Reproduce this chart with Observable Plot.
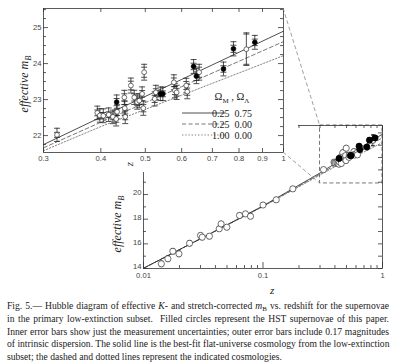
<!DOCTYPE html>
<html><head><meta charset="utf-8">
<script src="https://cdn.jsdelivr.net/npm/d3@7"></script>
<script src="https://cdn.jsdelivr.net/npm/@observablehq/plot@0.6"></script>
<style>
body{margin:0;background:#fff;}
#wrap{position:relative;width:400px;height:364px;overflow:hidden;background:#fff;}
#wrap svg{position:absolute;left:0;top:0;max-width:none;}
#cap{position:absolute;left:7px;top:300px;width:382px;font-family:"Liberation Serif",serif;font-size:9.9px;line-height:12.8px;color:#222;}
#cap div{text-align:justify;text-align-last:justify;white-space:nowrap;}
#cap div.last{text-align-last:left;}
#cap .s{font-size:7px;vertical-align:-2px;line-height:0;}
</style></head>
<body>
<div id="wrap"></div>
<script>
// ---- data: low-redshift supernovae (main panel only) ----
const lowZ   = [0.0141,0.0160,0.0176,0.0198,0.0243,0.0300,0.0310,0.0356,0.0430,0.0446,0.0498,0.0636,0.0714,0.0786,0.1000,0.1290,0.1776];
const lowM   = [14.38,14.79,15.40,15.19,16.05,16.68,16.54,16.62,17.22,17.62,17.35,18.30,18.43,18.24,19.15,19.57,20.46];
const lowErr = [0.15,0.15,0.14,0.15,0.13,0.12,0.12,0.12,0.11,0.11,0.11,0.10,0.10,0.10,0.10,0.10,0.10];
// ---- data: high-redshift supernovae (inset and main) ----
const hiZ   = [0.321,0.393,0.398,0.405,0.416,0.425,0.432,0.433,0.434,0.450,0.451,0.452,0.465,0.473,0.480,0.485,0.492,0.495,0.497,0.524,0.527,0.539,0.546,0.577,0.580,0.585,0.614,0.617,0.637,0.646,0.655,0.740,0.778,0.830,0.866];
const hiM   = [22.02,22.63,22.56,22.55,22.58,22.52,22.46,22.93,22.66,23.06,22.76,22.52,23.39,23.06,22.93,22.97,23.16,22.76,23.76,23.02,23.20,23.16,23.16,23.48,23.25,23.20,23.39,23.22,23.92,23.65,23.76,23.85,24.41,24.40,24.59];
const hiErr = [0.07,0.08,0.08,0.09,0.08,0.08,0.09,0.10,0.10,0.10,0.10,0.08,0.12,0.10,0.10,0.10,0.09,0.10,0.14,0.10,0.10,0.08,0.08,0.12,0.11,0.10,0.11,0.10,0.09,0.12,0.14,0.09,0.10,0.42,0.09];
const hiHST = [0,0,0,0,0,0,0,1,0,0,0,0,0,0,0,0,0,0,0,0,0,1,1,0,0,0,0,0,1,1,0,1,1,0,1];
const intrinsicDispersion = 0.17;
// ---- cosmology curves ----
const lineZ   = [0.01,0.03,0.1,0.3,0.4,0.6,1.0];
const mFlatL  = [14.02,16.42,19.08,21.75,22.51,23.56,24.90];
const mOpen   = [14.02,16.41,19.05,21.66,22.37,23.36,24.61];
const mEdS    = [14.02,16.40,19.02,21.58,22.25,23.12,24.22];
const legendLabels = ["0.25  0.75","0.25  0.00","1.00  0.00"];
// ---- axes / ticks ----
const mainXDomain = [0.01, 1], mainYDomain = [14, 25.6];
const mainXLabels = [0.01, 0.1, 1];
const mainYLabels = [14, 16, 18, 20, 22, 24];
const mainYMinor  = [15, 17, 19, 21, 23, 25];
const insetXDomain = [0.3, 1], insetYDomain = [21.53, 25.53];
const insetXTicks = [0.3,0.4,0.5,0.6,0.7,0.8,0.9,1];
const insetYTicks = [22, 23, 24, 25];
const insetYMinor = [21.75,22.25,22.5,22.75,23.25,23.5,23.75,24.25,24.5,24.75,25.25,25.5];
const zoomBoxZ = [0.3, 1], zoomBoxM = [20.9, 25.6];

const lowData = lowZ.map((z,i)=>({z, m:lowM[i], e:lowErr[i], hst:0}));
const hiData  = hiZ.map((z,i)=>({z, m:hiM[i], e:hiErr[i], hst:hiHST[i]}));
const allData = lowData.concat(hiData);
allData.forEach(d=>{ d.eo = Math.sqrt(d.e*d.e + intrinsicDispersion*intrinsicDispersion); });
const curves = [];
lineZ.forEach((z,i)=>{
  curves.push({z, m:mFlatL[i], k:"flat"});
  curves.push({z, m:mOpen[i], k:"open"});
  curves.push({z, m:mEdS[i], k:"eds"});
});
const styles = {
  flat:{stroke:"#222", dash:null, w:0.8},
  open:{stroke:"#555", dash:"4,2.5", w:0.8},
  eds: {stroke:"#777", dash:"1.4,1.8", w:0.9}
};
const capSymbol = { draw(ctx, size){ const w = Math.sqrt(size/Math.PI); ctx.moveTo(-w,0); ctx.lineTo(w,0); } };

const logMinor = [];
for (const dec of [0.01, 0.1]) for (let k=2;k<=9;k++) logMinor.push(+(k*dec).toFixed(3));

function curveMarks(data){
  return ["eds","open","flat"].map(k => Plot.line(data.filter(d=>d.k===k), {
    x:"z", y:"m", stroke:styles[k].stroke, strokeWidth:styles[k].w, strokeDasharray:styles[k].dash
  }));
}
function errorMarks(data, capR, dotR){
  return [
    Plot.ruleX(data, {x:"z", y1:d=>d.m-d.eo, y2:d=>d.m+d.eo, stroke:"#222", strokeWidth:0.8}),
    Plot.dot(data, {x:"z", y:d=>d.m+d.eo, symbol:capSymbol, r:capR, stroke:"#222", strokeWidth:0.8, fill:"none"}),
    Plot.dot(data, {x:"z", y:d=>d.m-d.eo, symbol:capSymbol, r:capR, stroke:"#222", strokeWidth:0.8, fill:"none"}),
    Plot.dot(data, {x:"z", y:d=>d.m+d.e, symbol:capSymbol, r:capR, stroke:"#222", strokeWidth:0.8, fill:"none"}),
    Plot.dot(data, {x:"z", y:d=>d.m-d.e, symbol:capSymbol, r:capR, stroke:"#222", strokeWidth:0.8, fill:"none"}),
    Plot.dot(data.filter(d=>!d.hst), {x:"z", y:"m", r:dotR, stroke:"#333", strokeWidth:0.7, fill:"white"}),
    Plot.dot(data.filter(d=>d.hst), {x:"z", y:"m", r:dotR, stroke:"#000", strokeWidth:0.7, fill:"#000"})
  ];
}

const tickFont = {fontFamily:"'Liberation Sans',Arial,sans-serif", fontSize:"7.6px", color:"#444"};
const fmt = d => String(d);

// ---------- main panel ----------
const MW=400, MH=300, ML=143, MR=18, MT=125, MB=32;
const mIW = MW-ML-MR, mIH = MH-MT-MB;
const main = Plot.plot({
  width:MW, height:MH, marginLeft:ML, marginRight:MR, marginTop:MT, marginBottom:MB,
  style:{...tickFont, background:"transparent", overflow:"visible"},
  x:{type:"log", domain:mainXDomain},
  y:{domain:mainYDomain},
  marks:[
    ...curveMarks(curves),
    Plot.rect([0], {x1:()=>zoomBoxZ[0], x2:()=>zoomBoxZ[1], y1:()=>zoomBoxM[0], y2:()=>zoomBoxM[1], fill:"none", stroke:"#666", strokeWidth:0.9, strokeDasharray:"4,2.5"}),
    ...errorMarks(allData, 1.8, 3.1),
    Plot.frame({stroke:"#333", strokeWidth:0.8}),
    Plot.tickY(mainYLabels, {y:d=>d, insetRight:mIW-5, stroke:"#333", strokeWidth:0.8}),
    Plot.tickY(mainYMinor, {y:d=>d, insetRight:mIW-3, stroke:"#333", strokeWidth:0.8}),
    Plot.tickY(mainYLabels.concat(mainYMinor), {y:d=>d, insetLeft:mIW-4, stroke:"#333", strokeWidth:0.8}),
    Plot.tickX(mainXLabels, {x:d=>d, insetTop:mIH-6, stroke:"#333", strokeWidth:0.8}),
    Plot.tickX(logMinor, {x:d=>d, insetTop:mIH-3, stroke:"#333", strokeWidth:0.8}),
    Plot.tickX(mainXLabels, {x:d=>d, insetBottom:mIH-6, stroke:"#333", strokeWidth:0.8}),
    Plot.tickX(logMinor, {x:d=>d, insetBottom:mIH-3, stroke:"#333", strokeWidth:0.8}),
    Plot.axisX({ticks:mainXLabels, tickSize:0, tickPadding:4, tickFormat:fmt, label:null, fill:"#444"}),
    Plot.axisY({ticks:mainYLabels, tickSize:0, tickPadding:2, tickFormat:fmt, label:null, fill:"#444", dy:-1.5})
  ]
});

// ---------- inset panel ----------
const IW=298, IH=172, IL=43, IR=15, IT=8, IB=20;
const iIW = IW-IL-IR, iIH = IH-IT-IB;
const inset = Plot.plot({
  width:IW, height:IH, marginLeft:IL, marginRight:IR, marginTop:IT, marginBottom:IB,
  style:{...tickFont, background:"white", overflow:"visible"},
  x:{type:"log", domain:insetXDomain},
  y:{domain:insetYDomain},
  marks:[
    ...curveMarks(curves.filter(d=>d.z>=0.3)),
    ...errorMarks(hiData, 3, 2.4),
    Plot.frame({stroke:"#333", strokeWidth:0.8}),
    Plot.tickY(insetYTicks, {y:d=>d, insetRight:iIW-5, stroke:"#333", strokeWidth:0.8}),
    Plot.tickY(insetYMinor, {y:d=>d, insetRight:iIW-3, stroke:"#333", strokeWidth:0.8}),
    Plot.tickY(insetYTicks, {y:d=>d, insetLeft:iIW-5, stroke:"#333", strokeWidth:0.8}),
    Plot.tickY(insetYMinor, {y:d=>d, insetLeft:iIW-3, stroke:"#333", strokeWidth:0.8}),
    Plot.tickX(insetXTicks, {x:d=>d, insetTop:iIH-4, stroke:"#333", strokeWidth:0.8}),
    Plot.tickX(insetXTicks, {x:d=>d, insetBottom:iIH-4, stroke:"#333", strokeWidth:0.8}),
    Plot.axisX({ticks:insetXTicks, tickSize:0, tickPadding:3, tickFormat:fmt, label:null, fill:"#444"}),
    Plot.axisY({ticks:insetYTicks, tickSize:0, tickPadding:2, tickFormat:fmt, label:null, fill:"#444"})
  ]
});

const wrap = document.getElementById("wrap");
wrap.appendChild(main);
wrap.appendChild(inset);

const serif = "'Liberation Serif','Times New Roman',serif";
function yLabel(svg, x, y){
  const t = d3.select(svg).append("text")
    .attr("transform", `translate(${x},${y}) rotate(-90)`)
    .attr("text-anchor","middle").attr("font-family",serif).attr("font-style","italic")
    .attr("font-size",12).attr("fill","#222");
  t.append("tspan").text("effective m");
  t.append("tspan").attr("font-size",8.5).attr("dy",3).text("B");
}
function zLabel(svg, x, y, rot){
  d3.select(svg).append("text")
    .attr("transform", `translate(${x},${y})${rot?" rotate(-90)":""}`)
    .attr("text-anchor","middle").attr("font-family",serif).attr("font-style","italic")
    .attr("font-size",11).attr("fill","#222").attr("dy","0.35em").text("z");
}
yLabel(inset, 28, IT+iIH/2+4);
zLabel(inset, IL+iIW*0.36, IH-8, true);
yLabel(main, 121, 224);
zLabel(main, ML+mIW*0.54, MH-10, false);

// legend in inset
const lg = d3.select(inset).append("g").attr("font-family",serif).attr("fill","#222");
const lx1 = IL+iIW-101, lx2 = IL+iIW-58, tx = IL+iIW-51;
const title = lg.append("text").attr("x",tx).attr("y",IT+iIH-52).attr("font-size",10.5);
title.append("tspan").text("Ω");
title.append("tspan").attr("font-size",7).attr("dy",2.5).text("M");
title.append("tspan").attr("dy",-2.5).text(" , Ω");
title.append("tspan").attr("font-size",7).attr("dy",2.5).text("Λ");
["flat","open","eds"].forEach((k,i)=>{
  const y = IT+iIH-39+i*11;
  lg.append("line").attr("x1",lx1).attr("x2",lx2).attr("y1",y).attr("y2",y)
    .attr("stroke",styles[k].stroke).attr("stroke-width",styles[k].w)
    .attr("stroke-dasharray",styles[k].dash);
  lg.append("text").attr("x",tx).attr("y",y+3.5).attr("font-size",10)
    .style("white-space","pre").text(legendLabels[i]);
});

// connector lines from inset corners to zoom box in main panel
const sxI = inset.scale("x"), syI = inset.scale("y"), sxM = main.scale("x"), syM = main.scale("y");
const ov = d3.select(wrap).append("svg").attr("width",400).attr("height",300).style("pointer-events","none");
[[insetYDomain[1], zoomBoxM[1]],[insetYDomain[0], zoomBoxM[0]]].forEach(([a,b])=>{
  ov.append("line")
    .attr("x1", sxI.apply(insetXDomain[1])).attr("y1", syI.apply(a))
    .attr("x2", sxM.apply(zoomBoxZ[0])).attr("y2", syM.apply(b))
    .attr("stroke","#888").attr("stroke-width",0.8).attr("stroke-dasharray","4,2.5");
});

// caption
const cap = document.createElement("div");
cap.id = "cap";
cap.innerHTML =
 '<div>Fig. 5.— Hubble diagram of effective <i>K</i>- and stretch-corrected <i>m</i><span class="s">B</span> vs. redshift for the supernovae</div>'+
 '<div>in the primary low-extinction subset.&nbsp; Filled circles represent the HST supernovae of this paper.</div>'+
 '<div>Inner error bars show just the measurement uncertainties; outer error bars include 0.17 magnitudes</div>'+
 '<div>of intrinsic dispersion. The solid line is the best-fit flat-universe cosmology from the low-extinction</div>'+
 '<div class="last">subset; the dashed and dotted lines represent the indicated cosmologies.</div>';
wrap.appendChild(cap);
// shrink caption font if any line is too wide
(function fit(){
  let fs = 9.9;
  const lines = cap.querySelectorAll("div");
  const tooWide = () => Array.from(lines).some(l => { l.style.textAlignLast="left"; const r = l.scrollWidth > 382; l.style.textAlignLast=""; return r; });
  while (fs > 8 && tooWide()) { fs -= 0.1; cap.style.fontSize = fs+"px"; }
})();
</script>
</body></html>
